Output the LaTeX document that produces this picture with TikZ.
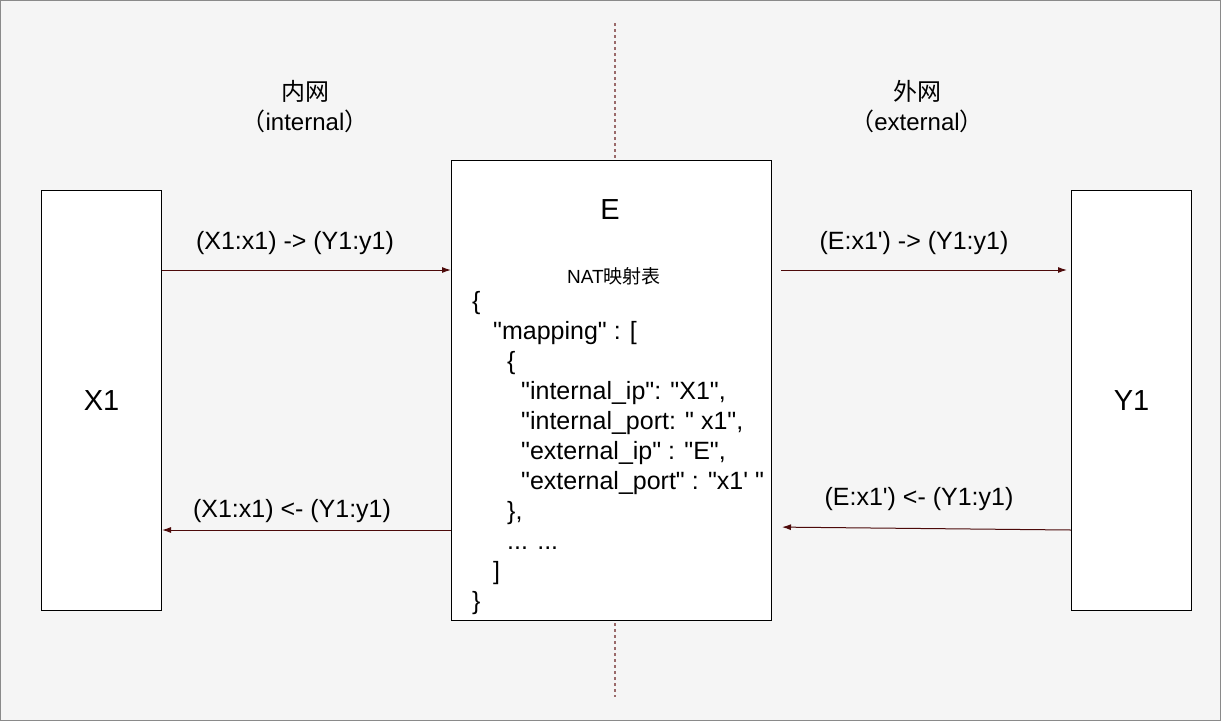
\documentclass[tikz,border=0pt]{standalone}
\usepackage{fontspec}
\newfontfamily\lib{Liberation Sans}
\newfontfamily\cjk{Noto Sans CJK SC}
\usetikzlibrary{arrows.meta}
\definecolor{bg}{HTML}{F5F5F5}
\definecolor{arr}{HTML}{4D0A0A}
\definecolor{dotc}{HTML}{9A6A6A}
\definecolor{frame}{HTML}{8A8A8A}
\begin{document}
\begin{tikzpicture}[x=1pt,y=-1pt,
  box/.style={draw=black,fill=white,line width=1pt,inner sep=0pt,anchor=north west},
  lbl/.style={font=\lib\fontsize{25}{30}\selectfont,inner sep=0pt},
  big/.style={font=\lib\fontsize{29}{34}\selectfont,inner sep=0pt},
  hdr/.style={font=\lib\fontsize{24}{28}\selectfont,inner sep=0pt},
  json/.style={font=\lib\fontsize{25}{30}\selectfont,inner sep=0pt,anchor=base west},
  conn/.style={draw=arr,line width=1pt,-{Latex[length=9pt,width=6pt]}},
  sep/.style={draw=dotc,line width=1.5pt,dash pattern=on 3pt off 3pt}]
\path[fill=bg,draw=frame,line width=1pt] (0.5,0.5) rectangle (1220.5,720.5);
\useasboundingbox (0,0) rectangle (1221,721);
% separator
\coordinate (s1) at (615,23);
\coordinate (s2) at (615,697);
\draw[sep] (s1) -- (s2);
% boxes
\node[box,minimum width=120pt,minimum height=420pt] (X1) at (41,190) {};
\node[box,minimum width=320pt,minimum height=460pt] (E) at (451,160) {};
\node[box,minimum width=120pt,minimum height=420pt] (Y1) at (1071,190) {};
\node[big] (tX1) at (X1.center) {X1};
\node[big] (tY1) at (Y1.center) {Y1};
\node[big] (tE) at (610,210) {E};
% headers
\node[hdr] (h1) at (305,91) {\cjk 内网};
\node[hdr] (h2) at (305,121) {{\cjk （}internal{\cjk ）}};
\node[hdr] (h3) at (917,91) {\cjk 外网};
\node[hdr] (h4) at (917,121) {{\cjk （}external{\cjk ）}};
% labels
\node[lbl] (l1) at (295,243) {(X1:x1) -> (Y1:y1)};
\node[lbl] (l2) at (292,511) {(X1:x1) <- (Y1:y1)};
\node[lbl] (l3) at (914,243) {(E:x1') -> (Y1:y1)};
\node[lbl] (l4) at (919,499) {(E:x1') <- (Y1:y1)};
% NAT table
\node[font=\lib\fontsize{19}{22}\selectfont,inner sep=0pt] (nat) at (614,276) {NAT{\cjk 映射表}};
\node[json] (j1) at (472,309) {\{};
\node[json] (j2) at (493,339) {"mapping" : [};
\node[json] (j3) at (507,369) {\{};
\node[json] (j4) at (521,399) {"internal\_ip": "X1",};
\node[json] (j5) at (521,429) {"internal\_port: " x1",};
\node[json] (j6) at (521,459) {"external\_ip" : "E",};
\node[json] (j7) at (521,489) {"external\_port" : "x1' "};
\node[json] (j8) at (507,519) {\},};
\node[json] (j9) at (507,549) {... ...};
\node[json] (j10) at (493,579) {]};
\node[json] (j11) at (472,609) {\}};
% connectors
\draw[conn] (X1.east |- 0,270) -- (E.west |- 0,270);
\draw[conn] (E.west |- 0,530) -- (X1.east |- 0,530);
\draw[conn,shorten <=9pt,shorten >=4pt] (E.east |- 0,270) -- (Y1.west |- 0,270);
\draw[conn,shorten >=10pt] (Y1.west |- 0,530) -- (E.east |- 0,527);
\end{tikzpicture}
\end{document}
